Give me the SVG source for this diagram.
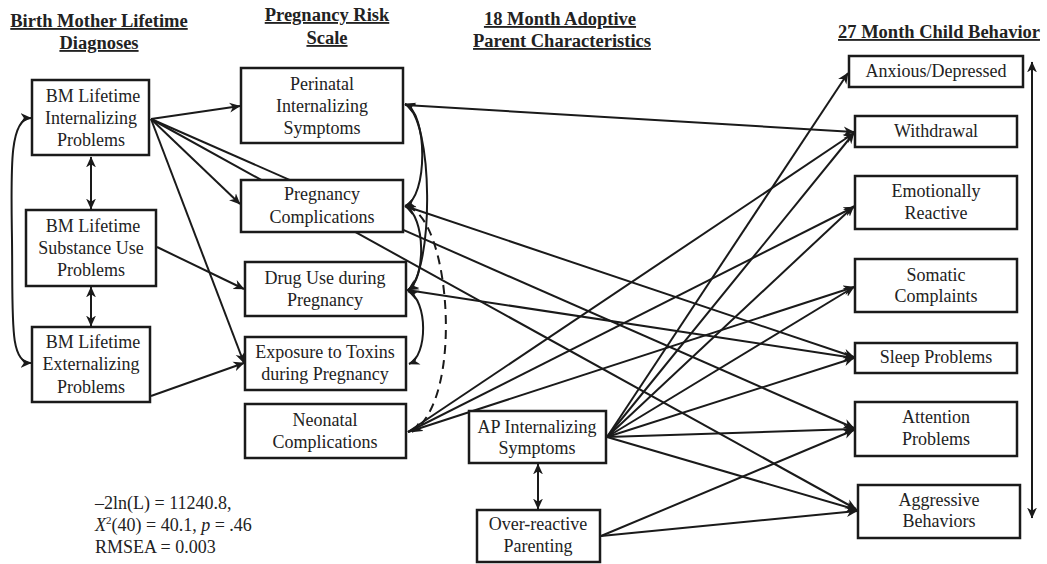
<svg xmlns="http://www.w3.org/2000/svg" width="1047" height="564" viewBox="0 0 1047 564">
<style>
.bg{fill:#fff}
.box{fill:#fff;stroke:#1a1a1a;stroke-width:2.5}
.t{font-family:"Liberation Serif","Times New Roman",serif;font-size:18px;fill:#222;text-anchor:middle}
.h{font-family:"Liberation Serif","Times New Roman",serif;font-size:18.5px;font-weight:bold;fill:#222;text-anchor:middle;text-decoration:underline}
.s{font-family:"Liberation Serif","Times New Roman",serif;font-size:18px;fill:#222}
.c{fill:none;stroke:#1a1a1a;stroke-width:2}
.a{marker-end:url(#ah)}
.d{marker-start:url(#ah);marker-end:url(#ah)}
.dash{stroke-dasharray:9 6}
</style>
<defs>
<marker id="ah" viewBox="0 0 10 10" refX="9.5" refY="5" markerWidth="11" markerHeight="11" markerUnits="userSpaceOnUse" orient="auto-start-reverse">
<path d="M0,0.5 L10,5 L0,9.5 L3,5 z" fill="#1a1a1a"/>
</marker>
</defs>
<rect class="bg" width="1047" height="564"/>

<g id="headers">
<text class="h" x="99" y="27">Birth Mother Lifetime</text>
<text class="h" x="99" y="49">Diagnoses</text>
<text class="h" x="327" y="21">Pregnancy Risk</text>
<text class="h" x="327" y="44">Scale</text>
<text class="h" x="560" y="25">18 Month Adoptive</text>
<text class="h" x="562" y="47">Parent Characteristics</text>
<text class="h" x="939" y="38">27 Month Child Behavior</text>
</g>

<g id="connectors">
<!-- birth mother -> pregnancy risk -->
<path class="c a" d="M151,119 L240,106"/>
<path class="c a" d="M151,119 L240,204"/>
<path class="c a" d="M151,119 L244,363"/>
<path class="c a" d="M151,119 L854,428"/>
<path class="c a" d="M151,119 L856,509"/>
<path class="c a" d="M157,247 L244,289"/>
<path class="c a" d="M151,396 L244,363"/>
<!-- birth mother covariances -->
<path class="c d" d="M91,157 L91,209"/>
<path class="c d" d="M91,287 L91,326"/>
<path class="c d" d="M31,118 C9,118 11,170 12,240 C13,320 9,363 31,363"/>
<!-- pregnancy risk covariances -->
<path class="c d" d="M405,104 C428,112 428,198 405,206"/>
<path class="c d" d="M405,104 C434,118 434,272 408,290"/>
<path class="c d" d="M405,206 C426,216 426,280 408,290"/>
<path class="c d" d="M408,291 C428,300 428,356 409,364"/>
<path class="c dash" d="M407,207 C450,215 465,400 412,432" marker-end="url(#ah)"/>
<!-- pregnancy risk -> child -->
<path class="c a" d="M405,105 L854,132"/>
<path class="c a" d="M405,206 L854,357"/>
<path class="c a" d="M407,290 L854,358"/>
<path class="c a" d="M408,432 L854,133"/>
<path class="c a" d="M408,432 L854,207"/>
<path class="c a" d="M408,432 L854,287"/>
<!-- adoptive parent -> child -->
<path class="c a" d="M607,437 L848,73"/>
<path class="c a" d="M607,437 L854,133"/>
<path class="c a" d="M607,437 L854,206"/>
<path class="c a" d="M607,437 L854,287"/>
<path class="c a" d="M607,437 L854,358"/>
<path class="c a" d="M607,437 L854,429"/>
<path class="c a" d="M607,437 L857,510"/>
<path class="c a" d="M601,536 L854,430"/>
<path class="c a" d="M601,536 L857,511"/>
<path class="c d" d="M538,464 L538,509"/>
<!-- child covariance -->
<path class="c d" d="M1032,62 L1032,518"/>
</g>

<g id="bm-int"><rect class="box" x="32" y="80" width="117" height="75"/>
<text class="t" x="93" y="102">BM Lifetime</text><text class="t" x="91" y="124">Internalizing</text><text class="t" x="91" y="146">Problems</text></g>
<g id="bm-sub"><rect class="box" x="26" y="210" width="130" height="76"/>
<text class="t" x="93" y="232">BM Lifetime</text><text class="t" x="91" y="254">Substance Use</text><text class="t" x="91" y="276">Problems</text></g>
<g id="bm-ext"><rect class="box" x="32" y="327" width="118" height="75"/>
<text class="t" x="93" y="348">BM Lifetime</text><text class="t" x="91" y="370">Externalizing</text><text class="t" x="91" y="393">Problems</text></g>

<g id="perinatal"><rect class="box" x="241" y="68" width="162" height="75"/>
<text class="t" x="322" y="90">Perinatal</text><text class="t" x="322" y="112">Internalizing</text><text class="t" x="322" y="134">Symptoms</text></g>
<g id="preg-comp"><rect class="box" x="241" y="180" width="162" height="52"/>
<text class="t" x="322" y="200">Pregnancy</text><text class="t" x="322" y="223">Complications</text></g>
<g id="drug-use"><rect class="box" x="245" y="262" width="161" height="54"/>
<text class="t" x="325" y="284">Drug Use during</text><text class="t" x="325" y="306">Pregnancy</text></g>
<g id="toxins"><rect class="box" x="245" y="337" width="161" height="53"/>
<text class="t" x="325" y="358">Exposure to Toxins</text><text class="t" x="325" y="380">during Pregnancy</text></g>
<g id="neonatal"><rect class="box" x="245" y="404" width="161" height="54"/>
<text class="t" x="325" y="426">Neonatal</text><text class="t" x="325" y="448">Complications</text></g>

<g id="ap-int"><rect class="box" x="469" y="411" width="137" height="52"/>
<text class="t" x="537" y="433">AP Internalizing</text><text class="t" x="537" y="454">Symptoms</text></g>
<g id="over-reactive"><rect class="box" x="477" y="510" width="123" height="52"/>
<text class="t" x="538" y="530">Over-reactive</text><text class="t" x="538" y="552">Parenting</text></g>

<g id="anxious"><rect class="box" x="849" y="56" width="174" height="31"/>
<text class="t" x="936" y="77">Anxious/Depressed</text></g>
<g id="withdrawal"><rect class="box" x="855" y="116" width="162" height="31"/>
<text class="t" x="936" y="137">Withdrawal</text></g>
<g id="emotional"><rect class="box" x="855" y="176" width="162" height="53"/>
<text class="t" x="936" y="197">Emotionally</text><text class="t" x="936" y="219">Reactive</text></g>
<g id="somatic"><rect class="box" x="855" y="259" width="162" height="53"/>
<text class="t" x="936" y="281">Somatic</text><text class="t" x="936" y="302">Complaints</text></g>
<g id="sleep"><rect class="box" x="855" y="343" width="162" height="30"/>
<text class="t" x="936" y="363">Sleep Problems</text></g>
<g id="attention"><rect class="box" x="855" y="402" width="162" height="54"/>
<text class="t" x="936" y="423">Attention</text><text class="t" x="936" y="445">Problems</text></g>
<g id="aggressive"><rect class="box" x="858" y="485" width="162" height="53"/>
<text class="t" x="939" y="506">Aggressive</text><text class="t" x="939" y="527">Behaviors</text></g>

<g id="fit">
<text class="s" x="95" y="509">–2ln(L) = 11240.8,</text>
<text class="s" x="95" y="531"><tspan font-style="italic">X</tspan><tspan font-size="11" dy="-7">2</tspan><tspan dy="7">(40) = 40.1, </tspan><tspan font-style="italic">p</tspan> = .46</text>
<text class="s" x="95" y="553">RMSEA = 0.003</text>
</g>
</svg>
